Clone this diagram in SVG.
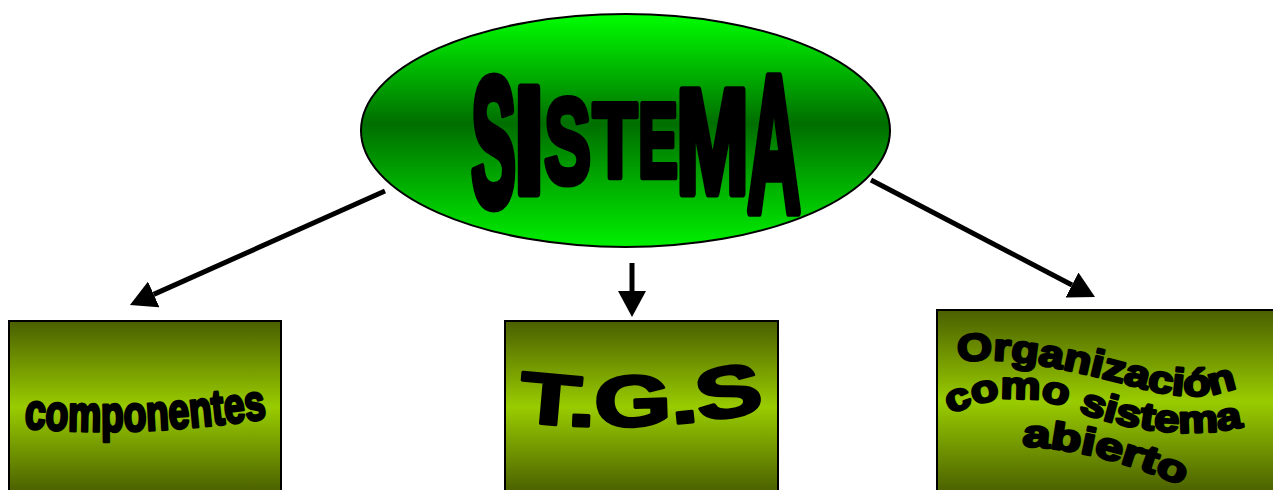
<svg xmlns="http://www.w3.org/2000/svg" width="1273" height="490" viewBox="0 0 1273 490">
<style>
.box{stroke:#000;stroke-width:2}
.word{font-family:"Liberation Sans",Arial,sans-serif;font-weight:bold;fill:#000;stroke:#000;stroke-linejoin:round}
.conn{stroke:#000;stroke-width:5;fill:none}
</style>
<defs>
<linearGradient id="gEll" x1="0" y1="0" x2="0" y2="1">
<stop offset="0" stop-color="#00ff00"/>
<stop offset="0.47" stop-color="#006e00"/>
<stop offset="1" stop-color="#00f000"/>
</linearGradient>
<linearGradient id="gBox" x1="0" y1="0" x2="0" y2="1">
<stop offset="0" stop-color="#4a5f00"/>
<stop offset="0.5" stop-color="#99cc00"/>
<stop offset="1" stop-color="#4a5f00"/>
</linearGradient>
<marker id="ah" viewBox="0 0 10 10" refX="0" refY="5" markerWidth="26" markerHeight="28" markerUnits="userSpaceOnUse" orient="auto" preserveAspectRatio="none">
<path d="M0,0 L10,5 L0,10 z" fill="#000"/>
</marker>
<path id="pComp" d="M 24,428 Q 140,438 268,418"/>
<path id="pTgs" d="M 518,421 Q 640,436 768,410"/>
<path id="pOrg" d="M 958,362 C 1010,354 1080,372 1140,388 S 1220,392 1244,386"/>
<path id="pComo" d="M 950,414 C 990,396 1030,392 1080,412 C 1130,432 1200,440 1252,424"/>
<path id="pAb" d="M 1022,446 Q 1100,450 1180,485"/>
</defs>
<rect width="1273" height="490" fill="#fff"/>
<g id="connectors">
<line class="conn" x1="385" y1="191" x2="153.7" y2="294.4" marker-end="url(#ah)"/>
<line class="conn" x1="632" y1="263" x2="632" y2="291" marker-end="url(#ah)"/>
<line class="conn" x1="871" y1="180" x2="1072" y2="285" marker-end="url(#ah)"/>
</g>
<g id="sistema">
<ellipse cx="625.5" cy="130.5" rx="264.5" ry="116.5" fill="url(#gEll)" stroke="#000" stroke-width="2"/>
<g class="word" stroke-width="6" font-size="100" text-anchor="middle">
<text transform="translate(493.5,212) scale(0.67,1.81)" y="-4">S</text>
<text transform="translate(529,198) scale(1.1,1.52)" y="-3">I</text>
<text transform="translate(567.5,188) scale(0.7,1.2)" y="-4">S</text>
<text transform="translate(615,180) scale(0.73,1.06)" y="-3">T</text>
<text transform="translate(658,180) scale(0.6,1.06)" y="-3">E</text>
<text transform="translate(712.5,197) scale(0.87,1.48)" y="-3">M</text>
<text transform="translate(774,217) scale(0.74,1.93)" y="-3">A</text>
</g>
</g>
<g id="componentes">
<rect class="box" x="9" y="321" width="272" height="172" fill="url(#gBox)"/>
<text class="word" font-size="50" stroke-width="3"><textPath href="#pComp" textLength="244" lengthAdjust="spacingAndGlyphs">componentes</textPath></text>
</g>
<g id="tgs">
<rect class="box" x="505" y="321" width="273" height="172" fill="url(#gBox)"/>
<text class="word" font-size="72" stroke-width="3"><textPath href="#pTgs" textLength="248" lengthAdjust="spacingAndGlyphs">T.G.S</textPath></text>
</g>
<g id="organizacion">
<rect class="box" x="937" y="310" width="340" height="183" fill="url(#gBox)"/>
<g class="word" font-size="38" stroke-width="2.5">
<text><textPath href="#pOrg" textLength="284" lengthAdjust="spacingAndGlyphs">Organización</textPath></text>
<text><textPath href="#pComo" textLength="300" lengthAdjust="spacingAndGlyphs">como sistema</textPath></text>
<text><textPath href="#pAb" textLength="166" lengthAdjust="spacingAndGlyphs">abierto</textPath></text>
</g>
</g>
</svg>
